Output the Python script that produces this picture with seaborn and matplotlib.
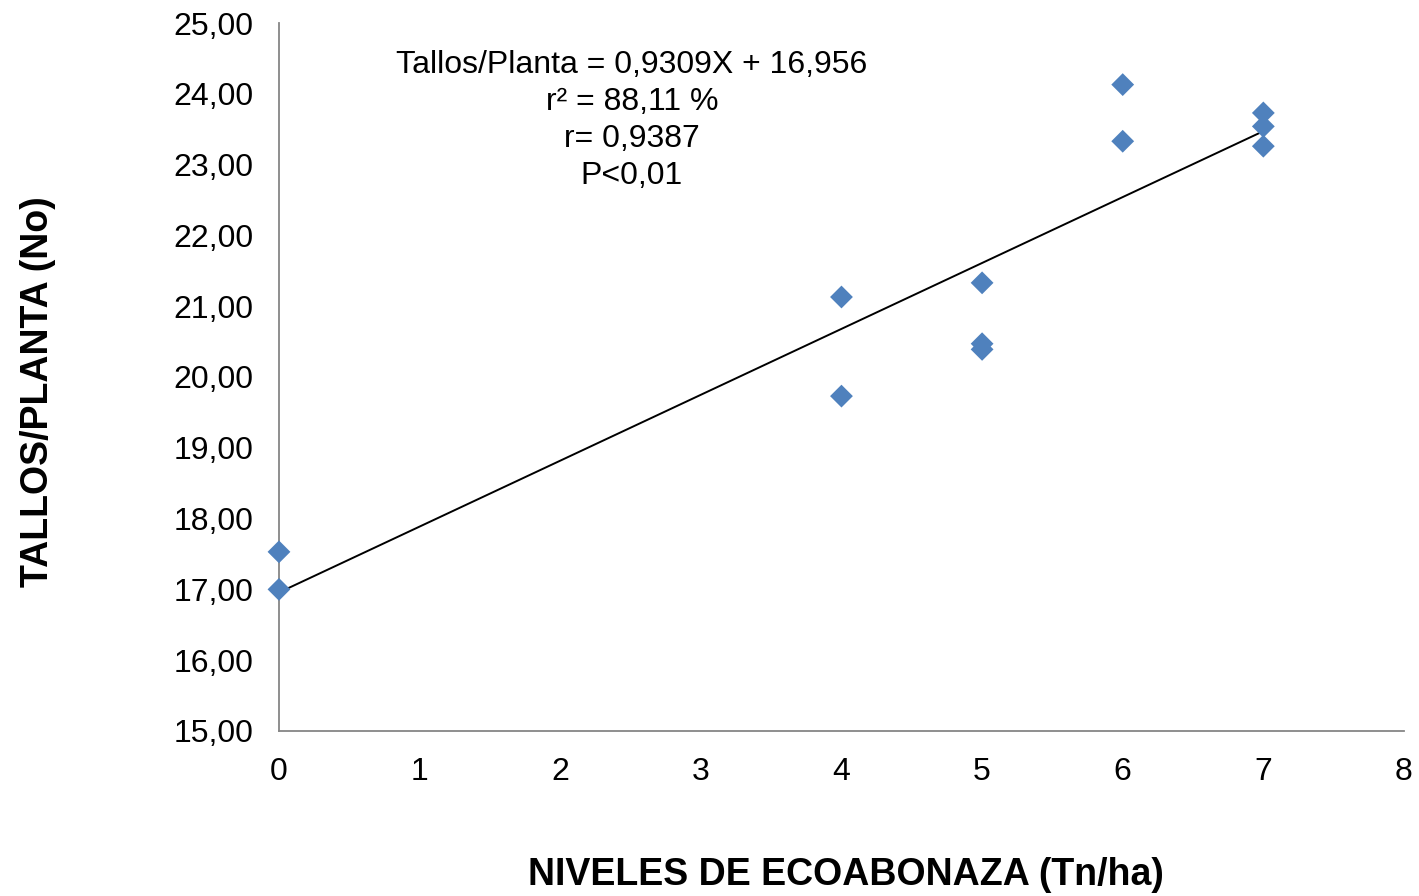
import matplotlib
matplotlib.use("Agg")
import matplotlib.pyplot as plt
import seaborn as sns
import numpy as np
import pandas as pd

# Observations: ecoabonaza level (Tn/ha) vs stems per plant
niveles = [0, 0, 4, 4, 5, 5, 5, 6, 6, 7, 7, 7]
tallos = [17.53, 17.00, 21.13, 19.73, 21.33, 20.47, 20.39, 24.13, 23.33, 23.73, 23.54, 23.26]

# Fitted linear model
pendiente = 0.9309
intercepto = 16.956

x_ticks = [0, 1, 2, 3, 4, 5, 6, 7, 8]
y_ticks = [15, 16, 17, 18, 19, 20, 21, 22, 23, 24, 25]

sns.set_theme(style="white")
plt.rcParams['font.family'] = ['Liberation Sans', 'DejaVu Sans']
plt.rcParams['text.color'] = 'black'
plt.rcParams['axes.labelcolor'] = 'black'

df = pd.DataFrame({"nivel": niveles, "tallos": tallos})
x_fit = np.array([min(niveles), max(niveles)], dtype=float)
fit = pd.DataFrame({"nivel": x_fit, "tallos": pendiente * x_fit + intercepto})

fig = plt.figure(figsize=(14.19, 8.96), dpi=100)
ax = fig.add_axes([0.1966, 0.1842, 0.7928, 0.7901])

sns.lineplot(data=fit, x="nivel", y="tallos", ax=ax, color="black", linewidth=1.4)
sns.scatterplot(data=df, x="nivel", y="tallos", ax=ax, marker="D", s=135,
                color="#4F81BD", edgecolor="none", zorder=3, clip_on=False)

ax.set_xlim(0, 8)
ax.set_ylim(15, 25)
ax.set_xticks(x_ticks)
ax.set_yticks(y_ticks)
ax.set_yticklabels([f"{v:.2f}".replace(".", ",") for v in y_ticks])
ax.set_xticklabels([str(v) for v in x_ticks])

axis_color = "#868686"
for side in ["top", "right"]:
    ax.spines[side].set_visible(False)
for side in ["left", "bottom"]:
    ax.spines[side].set_color(axis_color)
    ax.spines[side].set_linewidth(1.3)
ax.tick_params(axis="both", which="major", labelsize=23, colors=axis_color,
               labelcolor="black", length=7, width=1.3, direction="out")
ax.tick_params(axis="y", pad=11.5)
ax.tick_params(axis="x", pad=12)

ax.set_xlabel("NIVELES DE ECOABONAZA (Tn/ha)", fontsize=27, fontweight="bold")
ax.set_ylabel("TALLOS/PLANTA (No)", fontsize=27, fontweight="bold")
ax.xaxis.set_label_coords(0.504, -0.2035)
ax.xaxis.label.set_va("center")
ax.yaxis.set_label_coords(-0.2143, 0.48)
ax.yaxis.label.set_va("center")

ax.text(2.51, 24.62, "Tallos/Planta = 0,9309X + 16,956\nr² = 88,11 %\nr= 0,9387\nP<0,01",
        ha="center", va="top", fontsize=23, linespacing=1.31, color="black")

fig.savefig("out.png", dpi=100)
